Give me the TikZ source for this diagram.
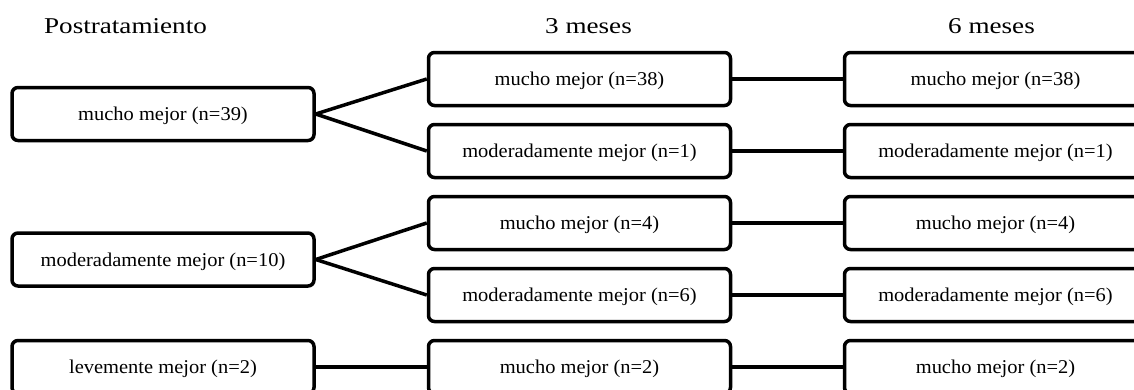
\documentclass[tikz,border=0pt]{standalone}
\usepackage{fontspec}
\setmainfont{Liberation Serif}
\newfontfamily\boxfont[FakeStretch=1.05]{Liberation Serif}
\newfontfamily\headfont[FakeStretch=1.2]{Liberation Serif}
\begin{document}
\begin{tikzpicture}[x=1pt,y=-1pt,
  stage/.style={draw, line width=3.5pt, rounded corners=6pt,
    minimum width=302pt, minimum height=53pt, inner sep=0pt,
    text height=13.4pt, text depth=0pt,
    font=\boxfont\fontsize{19.5}{23}\selectfont},
  link/.style={line width=3.5pt},
  head/.style={anchor=base, inner sep=0pt,
    font=\headfont\fontsize{22.6}{27}\selectfont}]
\useasboundingbox (0,0) rectangle (1134,389);
\clip (0,0) rectangle (1134,389);

% column headings
\node[head] (hpost) at (125.5,33.3) {Postratamiento};
\node[head] (h3) at (588.5,33.3) {3 meses};
\node[head] (h6) at (991.5,33.3) {6 meses};

% post-treatment
\node[stage] (p1) at (163,114) {mucho mejor (n=39)};
\node[stage] (p2) at (163,259.5) {moderadamente mejor (n=10)};
\node[stage] (p3) at (163,367) {levemente mejor (n=2)};

% 3 months
\node[stage] (a1) at (579.5,79) {mucho mejor (n=38)};
\node[stage] (a2) at (579.5,151) {moderadamente mejor (n=1)};
\node[stage] (a3) at (579.5,223) {mucho mejor (n=4)};
\node[stage] (a4) at (579.5,295) {moderadamente mejor (n=6)};
\node[stage] (a5) at (579.5,367) {mucho mejor (n=2)};

% 6 months
\node[stage] (b1) at (995.5,79) {mucho mejor (n=38)};
\node[stage] (b2) at (995.5,151) {moderadamente mejor (n=1)};
\node[stage] (b3) at (995.5,223) {mucho mejor (n=4)};
\node[stage] (b4) at (995.5,295) {moderadamente mejor (n=6)};
\node[stage] (b5) at (995.5,367) {mucho mejor (n=2)};

% connectors
\draw[link] (p1.east) -- (a1.west);
\draw[link] (p1.east) -- (a2.west);
\draw[link] (p2.east) -- (a3.west);
\draw[link] (p2.east) -- (a4.west);
\draw[link] (p3.east) -- (a5.west);
\draw[link] (a1.east) -- (b1.west);
\draw[link] (a2.east) -- (b2.west);
\draw[link] (a3.east) -- (b3.west);
\draw[link] (a4.east) -- (b4.west);
\draw[link] (a5.east) -- (b5.west);
\end{tikzpicture}
\end{document}
